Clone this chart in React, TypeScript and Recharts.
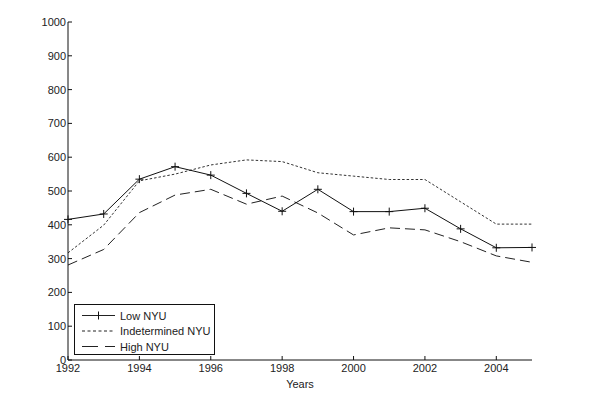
import React from 'react';
import { LineChart, Line, XAxis, YAxis } from 'recharts';

const years = [1992, 1993, 1994, 1995, 1996, 1997, 1998, 1999, 2000, 2001, 2002, 2003, 2004, 2005];
const lowNYU = [416, 432, 535, 572, 547, 493, 440, 505, 439, 439, 449, 388, 332, 333];
const indetNYU = [317, 399, 530, 550, 577, 592, 587, 554, 544, 534, 534, 468, 402, 402];
const highNYU = [281, 327, 436, 488, 505, 461, 485, 435, 370, 391, 385, 350, 308, 289];
const xTicks = [1992, 1994, 1996, 1998, 2000, 2002, 2004];
const yTicks = [0, 100, 200, 300, 400, 500, 600, 700, 800, 900, 1000];
const seriesNames = ['Low NYU', 'Indetermined NYU', 'High NYU'];

const data = years.map((y, i) => ({ year: y, low: lowNYU[i], indet: indetNYU[i], high: highNYU[i] }));

const FONT = 'Liberation Sans, Arial, sans-serif';

const YTick = (props: any) => {
  const { x, y, payload } = props;
  return (
    <g>
      <line x1={x} x2={x + 4} y1={y} y2={y} stroke="#111" strokeWidth={1} />
      <text x={x - 2} y={y + 4} textAnchor="end" fontSize={11} fontFamily={FONT} fill="#222">{payload.value}</text>
    </g>
  );
};

const XTick = (props: any) => {
  const { x, y, payload } = props;
  return (
    <g>
      <line x1={x} x2={x} y1={y} y2={y - 4} stroke="#111" strokeWidth={1} />
      <text x={x} y={y + 12} textAnchor="middle" fontSize={11} fontFamily={FONT} fill="#222">{payload.value}</text>
    </g>
  );
};

const PlusDot = (props: any) => {
  const { cx, cy } = props;
  if (cx == null || cy == null) return null;
  return (
    <g>
      <line x1={cx - 4} x2={cx + 4} y1={cy} y2={cy} stroke="#111" strokeWidth={1} />
      <line x1={cx} x2={cx} y1={cy - 4} y2={cy + 4} stroke="#111" strokeWidth={1} />
    </g>
  );
};

const legendStyles = [
  { dash: undefined as string | undefined, plus: true },
  { dash: '3 2.5', plus: false },
  { dash: '16 7', plus: false },
];

const LegendBox = () => (
  <svg width={141} height={51} style={{ display: 'block' }}>
    <rect x={0.5} y={0.5} width={140} height={50} fill="#fff" stroke="#111" strokeWidth={1} />
    {legendStyles.map((st, i) => {
      const cy = 11.5 + i * 15.5;
      return (
        <g key={i}>
          <line x1={8} x2={41} y1={cy} y2={cy} stroke="#222" strokeWidth={1} strokeDasharray={st.dash} />
          {st.plus && <line x1={24.5} x2={24.5} y1={cy - 4} y2={cy + 4} stroke="#111" strokeWidth={1} />}
          <text x={46} y={cy + 4} fontSize={11} fontFamily={FONT} fill="#222">{seriesNames[i]}</text>
        </g>
      );
    })}
  </svg>
);

export default function App() {
  return (
    <div style={{ position: 'absolute', left: 0, top: 0, width: 600, height: 418, background: '#fff' }}>
      <LineChart width={600} height={418} data={data} margin={{ top: 22, right: 68, bottom: 0, left: 0 }}>
        <XAxis
          dataKey="year"
          type="number"
          domain={[1992, 2005]}
          ticks={xTicks}
          tickSize={0}
          tickMargin={0}
          tickLine={false}
          tick={<XTick />}
          height={58}
          axisLine={{ stroke: '#111' }}
          label={{ value: 'Years', position: 'insideTop', dy: 15, fontSize: 11, fontFamily: FONT, fill: '#222' }}
        />
        <YAxis
          type="number"
          domain={[0, 1000]}
          ticks={yTicks}
          tickSize={0}
          tickMargin={0}
          tickLine={false}
          tick={<YTick />}
          width={68}
          axisLine={{ stroke: '#111' }}
        />
        <Line dataKey="indet" name={seriesNames[1]} stroke="#333" strokeWidth={1} strokeDasharray="2.5 2" dot={false} isAnimationActive={false} />
        <Line dataKey="high" name={seriesNames[2]} stroke="#222" strokeWidth={1} strokeDasharray="10 5" dot={false} isAnimationActive={false} />
        <Line dataKey="low" name={seriesNames[0]} stroke="#111" strokeWidth={1} dot={<PlusDot />} isAnimationActive={false} />
      </LineChart>
      <div style={{ position: 'absolute', left: 74, top: 304 }}>
        <LegendBox />
      </div>
    </div>
  );
}
